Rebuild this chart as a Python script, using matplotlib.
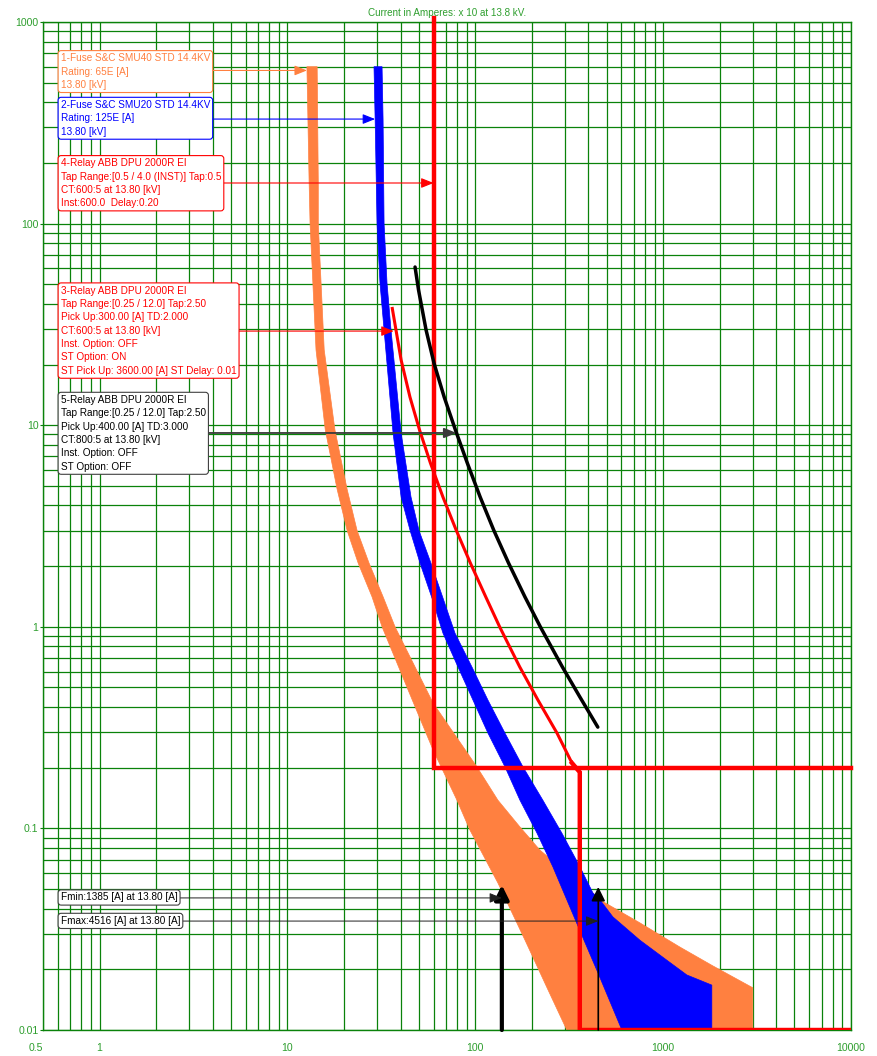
import matplotlib
matplotlib.use("Agg")
import numpy as np
import matplotlib.pyplot as plt
from matplotlib.ticker import LogLocator, FixedLocator, FixedFormatter, NullFormatter
from matplotlib.patches import ArrowStyle

plt.rcParams['font.family'] = ['Liberation Sans', 'DejaVu Sans']

# ---- axes (current in A x10 at 13.8 kV, time in seconds) ----
x_ticks = [0.5, 1, 10, 100, 1000, 10000]
x_tick_labels = ['0.5', '1', '10', '100', '1000', '10000']
y_ticks = [0.01, 0.1, 1, 10, 100, 1000]
y_tick_labels = ['0.01', '0.1', '1', '10', '100', '1000']

# ---- 1-Fuse S&C SMU40 65E : minimum melt / total clear ----
fuse65_melt_i = [12.7, 13.05, 13.2, 14.2, 15.9, 18.4, 20.8, 23.8, 28.2, 31.9,
                 43.9, 59.6, 79.9, 93.7, 132, 184, 244, 307]
fuse65_melt_t = [600, 159, 100, 23.6, 9.5, 4.8, 3.0, 2.07, 1.41, 1.0,
                 0.486, 0.245, 0.138, 0.098, 0.0536, 0.0279, 0.0158, 0.01]
fuse65_clear_i = [14.4, 14.6, 14.6, 15.7, 17.9, 20.8, 23.5, 27.2, 32.3, 37.4,
                  59.6, 102, 132, 173, 221, 282, 361, 461, 752, 1227, 1839,
                  3000, 3000]
fuse65_clear_t = [600, 159, 100, 23.6, 9.5, 4.8, 3.0, 2.07, 1.41, 1.0,
                  0.419, 0.202, 0.138, 0.1016, 0.078, 0.0644, 0.0555, 0.0442,
                  0.034, 0.0258, 0.0208, 0.0162, 0.01]

# ---- 2-Fuse S&C SMU20 125E ----
fuse125_melt_i = [28.9, 29.3, 30.0, 31.1, 32.7, 36.5, 40.3, 45.0, 50.8, 58.8,
                  67.3, 80.9, 97.2, 116.8, 143.9, 172.9, 213, 259, 319, 379,
                  450, 603]
fuse125_melt_t = [600, 330, 100, 50.7, 29.7, 9.15, 4.4, 3.0, 2.07, 1.39,
                  0.93, 0.632, 0.433, 0.297, 0.202, 0.138, 0.0948, 0.0644,
                  0.0407, 0.0279, 0.0192, 0.01]
fuse125_clear_i = [31.9, 32.3, 32.7, 33.9, 35.6, 40.3, 45.5, 50.2, 58.1, 67.3,
                   78.0, 96.0, 116.8, 143.9, 179.4, 229, 289, 361, 423, 461,
                   540, 752, 1046, 1337, 1816, 1816]
fuse125_clear_t = [600, 330, 100, 50.7, 29.7, 9.15, 4.4, 3.0, 2.07, 1.39,
                   0.93, 0.632, 0.433, 0.297, 0.202, 0.138, 0.0948, 0.0644,
                   0.0478, 0.0442, 0.0364, 0.0279, 0.0222, 0.01875, 0.0167, 0.01]

# ---- 3-Relay ABB DPU 2000R EI (pickup 300 A, TD 2.0, ST 3600 A / 0.01 s) ----
relay3_i = [36.05, 40.3, 44.9, 50.5, 57.7, 67.3, 79.1, 94.2, 113.6, 135.0,
            172.5, 215.6, 272.3, 327]
relay3_t = [38.6, 21.05, 13.8, 9.47, 6.49, 4.40, 3.02, 2.07, 1.41, 0.997,
            0.632, 0.433, 0.297, 0.2111]
relay3_st_pickup = 3600.0 / 10
relay3_st_delay = 0.01
relay3_st_i = [327, relay3_st_pickup, relay3_st_pickup, 10000]
relay3_st_t = [0.2111, 0.19, relay3_st_delay, relay3_st_delay]

# ---- 4-Relay ABB DPU 2000R (inst 600 A, delay 0.20 s) ----
relay4_inst = 600.0 / 10
relay4_delay = 0.20
relay4_i = [relay4_inst, relay4_inst, 10000]
relay4_t = [1050, relay4_delay, relay4_delay]

# ---- 5-Relay ABB DPU 2000R EI (pickup 400 A, TD 3.0) ----
relay5_i = [47.8, 49.9, 54.7, 60.3, 68.3, 78.4, 90.7, 106.2, 125.3, 150.4,
            183.6, 222.3, 290.9, 360.2, 448.9]
relay5_t = [60.9, 46.8, 29.7, 20.3, 13.8, 9.47, 6.49, 4.40, 3.02, 2.07,
            1.41, 0.997, 0.632, 0.449, 0.318]

# ---- fault currents ----
fault_min = 1385 / 10
fault_max = 4516 / 10
fault_arrow_top = [0.0524, 0.0512]

ORANGE = '#FF8040'
BLUE = '#0000FF'
RED = '#FF0000'
GRID = '#0A820A'
LABEL_GREEN = '#2E9E2E'

W, H = 877, 1056
L, R, T, B = 43, 851, 22, 1030
fig = plt.figure(figsize=(W / 100, H / 100), dpi=100)
ax = fig.add_axes([L / W, 1 - B / H, (R - L) / W, (B - T) / H])
ax.set_xscale('log')
ax.set_yscale('log')
ax.set_xlim(0.5, 10000)
ax.set_ylim(0.01, 1000)

# grid
ax.xaxis.set_major_locator(FixedLocator(x_ticks))
ax.xaxis.set_major_formatter(FixedFormatter(x_tick_labels))
ax.yaxis.set_major_locator(FixedLocator(y_ticks))
ax.yaxis.set_major_formatter(FixedFormatter(y_tick_labels))
ax.xaxis.set_minor_locator(LogLocator(base=10, subs=np.arange(2, 10), numticks=50))
ax.yaxis.set_minor_locator(LogLocator(base=10, subs=np.arange(2, 10), numticks=50))
ax.xaxis.set_minor_formatter(NullFormatter())
ax.yaxis.set_minor_formatter(NullFormatter())
ax.grid(True, which='both', color=GRID, lw=0.9)
ax.set_axisbelow(True)
for s in ax.spines.values():
    s.set_color(GRID)
    s.set_linewidth(1.0)
ax.tick_params(axis='x', which='both', length=0, pad=9.5, labelsize=7.6, labelcolor=LABEL_GREEN)
ax.tick_params(axis='y', which='major', length=2.5, pad=0.8, color=GRID, labelsize=7.6, labelcolor=LABEL_GREEN)
ax.tick_params(axis='y', which='minor', length=0)
# the first current label sits a little left of the axis corner
ax.get_xticklabels()[0].set_horizontalalignment('right')

fig.text(447 / W, 1 - 13 / H, 'Current in Amperes: x 10 at 13.8 kV.', ha='center', va='center',
         color=LABEL_GREEN, fontsize=7.1)

# fuse bands
ax.fill(np.concatenate([fuse65_melt_i, fuse65_clear_i[::-1]]),
        np.concatenate([fuse65_melt_t, fuse65_clear_t[::-1]]),
        color=ORANGE, lw=0.5, zorder=2)
ax.fill(np.concatenate([fuse125_melt_i, fuse125_clear_i[::-1]]),
        np.concatenate([fuse125_melt_t, fuse125_clear_t[::-1]]),
        color=BLUE, lw=0.5, zorder=3)

# relays
ax.plot(relay3_i, relay3_t, color=RED, lw=2.2, zorder=4, solid_capstyle='butt')
ax.plot(relay3_st_i, relay3_st_t, color=RED, lw=3.2, zorder=4, solid_joinstyle='miter')
ax.plot(relay4_i, relay4_t, color=RED, lw=3.2, zorder=4, clip_on=False, solid_joinstyle='miter')
ax.plot(relay5_i, relay5_t, color='black', lw=2.5, zorder=5, solid_capstyle='round')

# fault arrows
head_big = ArrowStyle('-|>', head_length=0.85, head_width=0.42)
ax.annotate('', xy=(fault_min, fault_arrow_top[0]), xytext=(fault_min, 0.01),
            arrowprops=dict(arrowstyle=head_big, mutation_scale=10, lw=3.0, color='black',
                            shrinkA=0, shrinkB=0), zorder=6)
ax.annotate('', xy=(fault_max, fault_arrow_top[1]), xytext=(fault_max, 0.01),
            arrowprops=dict(arrowstyle=head_big, mutation_scale=10, lw=1.2, color='black',
                            shrinkA=0, shrinkB=0), zorder=6)


def px2ax(px, py):
    return (px - L) / (R - L), (B - py) / (B - T)


# label boxes: (text, colour, top px, arrow tip current, arrow tip time, line colour, line width)
labels = [
    ("1-Fuse S&C SMU40 STD 14.4KV\nRating: 65E [A]\n13.80 [kV]", ORANGE, 50, 12.7, 575, ORANGE, 0.8),
    ("2-Fuse S&C SMU20 STD 14.4KV\nRating: 125E [A]\n13.80 [kV]", BLUE, 96.7, 29.3, 330, BLUE, 0.8),
    ("4-Relay ABB DPU 2000R EI\nTap Range:[0.5 / 4.0 (INST)] Tap:0.5\nCT:600:5 at 13.80 [kV]\nInst:600.0  Delay:0.20",
     RED, 155, relay4_inst, 159, RED, 0.8),
    ("3-Relay ABB DPU 2000R EI\nTap Range:[0.25 / 12.0] Tap:2.50\nPick Up:300.00 [A] TD:2.000\n"
     "CT:600:5 at 13.80 [kV]\nInst. Option: OFF\nST Option: ON\nST Pick Up: 3600.00 [A] ST Delay: 0.01",
     RED, 282.3, 36.8, 29.3, RED, 0.8),
    ("5-Relay ABB DPU 2000R EI\nTap Range:[0.25 / 12.0] Tap:2.50\nPick Up:400.00 [A] TD:3.000\n"
     "CT:800:5 at 13.80 [kV]\nInst. Option: OFF\nST Option: OFF",
     'black', 391.7, 79.6, 9.15, '#3A3A3A', 1.3),
    ("Fmin:1385 [A] at 13.80 [A]", 'black', 889.3, fault_min, 0.0452, '#202020', 0.7),
    ("Fmax:4516 [A] at 13.80 [A]", 'black', 912.7, fault_max, 0.0347, '#202020', 0.7),
]

texts = []
for txt, col, top, ti, tt, lc, lw in labels:
    pad_px = 2.4
    x0, y0 = px2ax(57.7 + pad_px + 0.6, top + pad_px + 0.8)
    edge = '#404040' if col == 'black' else col
    t = ax.text(x0, y0, txt, transform=ax.transAxes, ha='left', va='top', fontsize=7.2,
                color=col, linespacing=1.42, zorder=8,
                bbox=dict(boxstyle='round,pad=0.26,rounding_size=0.3', fc='white', ec=edge, lw=0.8))
    texts.append(t)

fig.canvas.draw()
head_small = ArrowStyle('-|>', head_length=0.75, head_width=0.3)
inv = ax.transAxes.inverted()
for t, (txt, col, top, ti, tt, lc, lw) in zip(texts, labels):
    bb = t.get_bbox_patch().get_window_extent()
    xr = inv.transform((bb.x1, bb.y0))[0]
    ax.annotate('', xy=(ti, tt), xycoords='data', xytext=(xr, tt),
                textcoords=('axes fraction', 'data'),
                arrowprops=dict(arrowstyle=head_small, mutation_scale=10, lw=lw, color=lc,
                                shrinkA=0, shrinkB=0), zorder=7)

fig.savefig('out.png', dpi=100)
